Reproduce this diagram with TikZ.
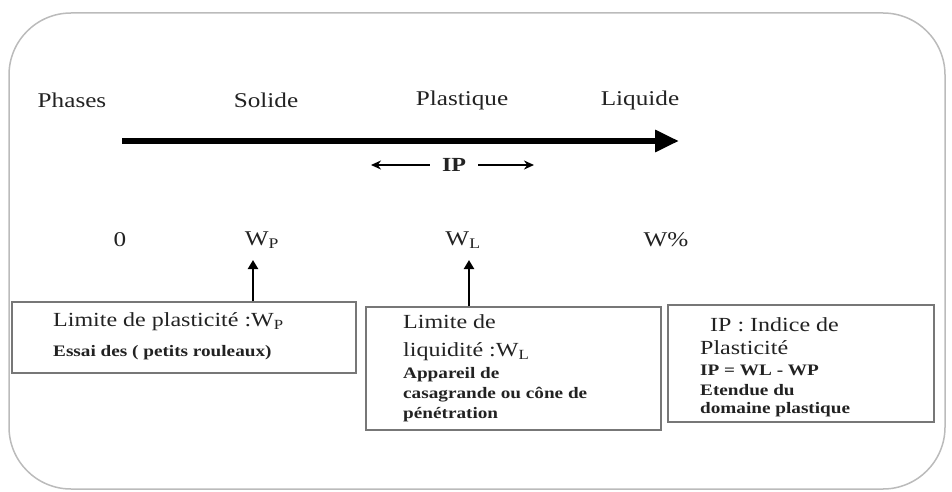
\documentclass[tikz,border=0pt]{standalone}
\usepackage{fontspec}
\setmainfont{Liberation Serif}[FakeStretch=1.2,
  UprightFont={Liberation Serif},
  BoldFont={Liberation Serif Bold},
  ItalicFont={Liberation Serif Italic},
  BoldItalicFont={Liberation Serif Bold Italic}]
\usetikzlibrary{arrows.meta}
\definecolor{txt}{HTML}{222222}
\definecolor{frame}{HTML}{BBBBBB}
\definecolor{boxline}{HTML}{777777}
\begin{document}
\begin{tikzpicture}[x=1pt,y=-1pt,
  big/.style={font=\fontsize{21}{25}\selectfont, text=txt, inner sep=0pt},
  lbl/.style={font=\fontsize{20}{24}\selectfont, text=txt, inner sep=0pt, anchor=west},
  bld/.style={font=\fontsize{16}{19}\selectfont\bfseries, text=txt, inner sep=0pt, anchor=west},
  boxs/.style={draw=boxline, line width=1.2pt, inner sep=0pt},
  mainarrow/.style={line width=6pt, -{Triangle[length=24pt,width=21pt]}},
  iparrow/.style={line width=2.4pt, -{Stealth[length=10pt,width=9pt]}},
  uparrow/.style={line width=2.8pt, -{Triangle[length=9pt,width=10pt]}}]
\useasboundingbox (0,0) rectangle (952,492);
% outer frame
\draw[frame, line width=1.5pt, rounded corners=62pt] (9,13) rectangle (945,489);
% phase labels
\node[big] (phases) at (72,100) {Phases};
\node[big] (solide) at (266,100) {Solide};
\node[big] (plast) at (462,100) {Plastique};
\node[big] (liq) at (640,100) {Liquide};
% main arrow
\coordinate (m1) at (122,141);
\coordinate (m2) at (679,141);
\draw[mainarrow] (m1) -- (m2);
% IP
\node[big, font=\fontsize{20}{24}\selectfont\bfseries] (ip) at (454,165) {IP};
\coordinate (ipl) at (371,165);
\coordinate (ipr) at (534,165);
\draw[iparrow] ([xshift=-12pt]ip.west) -- (ipl);
\draw[iparrow] ([xshift=12pt]ip.east) -- (ipr);
% water contents
\node[big] (zero) at (120,240) {0};
\node[big] (wp) at (262,240) {W\textsubscript{P}};
\node[big] (wl) at (463,240) {W\textsubscript{L}};
\node[big] (wpc) at (666,240) {W\%};
% boxes
\node[boxs, minimum width=344pt, minimum height=71pt] (box1) at (184,337.5) {};
\node[boxs, minimum width=295pt, minimum height=123pt] (box2) at (513.5,368.5) {};
\node[boxs, minimum width=266pt, minimum height=117pt] (box3) at (801,363.5) {};
% up arrows
\coordinate (t1) at (253,260);
\coordinate (t2) at (469,260);
\draw[uparrow] (t1 |- box1.north) -- (t1);
\draw[uparrow] (t2 |- box2.north) -- (t2);
% box 1 text
\node[lbl] (b1a) at (53,322) {Limite de plasticité :W\textsubscript{P}};
\node[bld] (b1b) at (53,353) {Essai des ( petits rouleaux)};
% box 2 text
\node[lbl] (b2a) at (403,322) {Limite de};
\node[lbl] (b2b) at (403,352) {liquidité :W\textsubscript{L}};
\node[bld] (b2c) at (403,375) {Appareil de};
\node[bld] (b2d) at (403,395) {casagrande ou cône de};
\node[bld] (b2e) at (403,415) {pénétration};
% box 3 text
\node[lbl] (b3a) at (710,325) {IP : Indice de};
\node[lbl] (b3b) at (700,348) {Plasticité};
\node[bld] (b3c) at (700,370) {IP = WL - WP};
\node[bld] (b3d) at (700,390) {Etendue du};
\node[bld] (b3e) at (700,410) {domaine plastique};
\end{tikzpicture}
\end{document}
